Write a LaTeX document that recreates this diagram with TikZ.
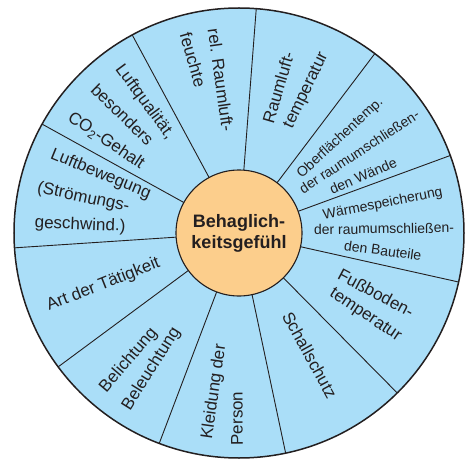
\documentclass[tikz,border=0pt]{standalone}
\usepackage{fontspec}
\setmainfont{Liberation Sans}
\definecolor{wheelblue}{RGB}{170,222,248}
\definecolor{coreorange}{RGB}{252,206,140}
\definecolor{inkline}{RGB}{35,31,32}
\tikzset{
  factor/.style={font=\fontsize{17}{20}\selectfont, inner sep=0pt, anchor=mid, text=inkline},
  factorsmall/.style={factor, font=\fontsize{14}{17}\selectfont},
  spoke/.style={draw=inkline, line width=0.9pt}
}
\begin{document}
\begin{tikzpicture}[x=1pt,y=1pt]
\useasboundingbox (-239,-227) rectangle (226,233);
\fill[wheelblue] (0,0) circle (225);
\foreach \k in {0,...,10}{
  \draw[spoke] ({85.6+\k*360/11}:63) -- ({85.6+\k*360/11}:225);
}
\node[circle, draw=inkline, line width=1.1pt, fill=coreorange, minimum size=126pt, inner sep=0pt, align=center, text=inkline, font=\bfseries\fontsize{18}{21}\selectfont] (core) at (0,0) {Behaglich-\\keitsgefühl};
\draw[draw=inkline, line width=1.5pt] (0,0) circle (225);
\node[factor, rotate=-82.0] (feuchte1) at (98.0:154) {rel. Raumluft-};
\node[factor, rotate=-74.1] (feuchte2) at (105.9:179.3) {feuchte};
\node[factor, rotate=-53.6] (luftq1) at (126.4:161.6) {Luftqualität,};
\node[factor, rotate=-44.3] (luftq2) at (135.7:166) {besonders};
\node[factor, rotate=-34] (luftq3) at (146:161.7) {CO\textsubscript{2}-Gehalt};
\node[factor, rotate=-22.3] (luftb1) at (157.7:150.2) {Luftbewegung};
\node[factor, rotate=-12.1] (luftb2) at (167.9:159.6) {(Strömungs-};
\node[factor, rotate=-2.2] (luftb3) at (177.8:159.1) {geschwind.)};
\node[factor, rotate=21.6] (taet) at (201.6:145.2) {Art der Tätigkeit};
\node[factor, rotate=49.7] (licht1) at (229.7:168.5) {Belichtung};
\node[factor, rotate=57.9] (licht2) at (237.9:161.8) {Beleuchtung};
\node[factor, rotate=81.8] (kleid1) at (261.8:160.7) {Kleidung der};
\node[factor, rotate=90.3] (kleid2) at (270.3:185.5) {Person};
\node[factor, rotate=-61.2] (schall) at (-61.2:141) {Schallschutz};
\node[factor, rotate=-28] (boden1) at (-24.9:149.4) {Fußboden-};
\node[factor, rotate=-33.6] (boden2) at (-33.6:150.7) {temperatur};
\node[factorsmall, rotate=11] (speich1) at (11:146.7) {Wärmespeicherung};
\node[factorsmall, rotate=0.8] (speich2) at (0.8:145) {der raumumschließen-};
\node[factorsmall, rotate=-7.9] (speich3) at (-7.9:144.9) {den Bauteile};
\node[factorsmall, rotate=42.7] (oberfl1) at (42.7:138.7) {Oberflächentemp.};
\node[factorsmall, rotate=33.2] (oberfl2) at (33.2:145.2) {der raumumschließen-};
\node[factorsmall, rotate=23.7] (oberfl3) at (23.7:136.6) {den Wände};
\node[factor, rotate=73.6] (temp1) at (73.6:150.6) {Raumluft-};
\node[factor, rotate=64.2] (temp2) at (64.2:157.7) {temperatur};
\end{tikzpicture}
\end{document}
